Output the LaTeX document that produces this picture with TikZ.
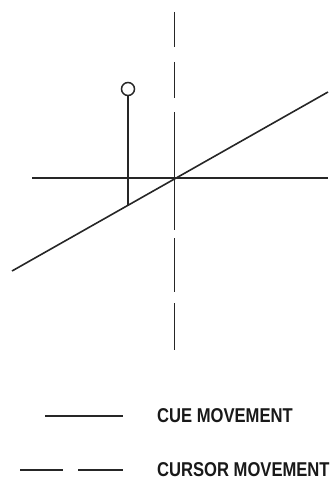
\documentclass[tikz,border=0pt]{standalone}
\usepackage{fontspec}
\setmainfont{Liberation Sans}
\usepackage{tikz}

\tikzset{
  cue/.style={line width=1.6pt, black!85},
  cursor/.style={line width=1.6pt, black!85},
  legendtext/.style={anchor=west, inner sep=0pt, font=\fontsize{20}{21}\selectfont\bfseries, text=black!90, xscale=0.83, transform shape}
}

\begin{document}
\begin{tikzpicture}[x=1pt, y=-1pt]

		\useasboundingbox (0,0) rectangle (334,495);

		% --- points ---
		\coordinate (origin) at (174.5,178);
		\coordinate (cueStart) at (12,271);
		\coordinate (cueEnd) at (328,92);
		\coordinate (target) at (128,89);
		\coordinate (foot) at (128,205);

		% --- axes ---
		\draw[cue] (32,178) -- (328,178);
		\foreach \ya/\yb in {12/47, 62/98, 112/230, 238/292, 303/350}
			\draw[cursor] (174.5,\ya) -- (174.5,\yb);

		% --- cue line ---
		\draw[cue] (cueStart) -- (cueEnd);

		% --- target with stem ---
		\node[circle, draw, line width=1.5pt, black!85, minimum size=13pt, inner sep=0pt] (dot) at (target) {};
		\draw[cue] (dot.south) -- (foot);

		% --- legend ---
		\draw[cue] (45,416) -- (123,416);
		\node[legendtext] (cueLabel) at (157,416) {CUE MOVEMENT};
		\draw[cursor] (20,470) -- (63,470);
		\draw[cursor] (78,470) -- (123,470);
		\node[legendtext] (cursorLabel) at (157,470) {CURSOR MOVEMENT};

	\end{tikzpicture}
\end{document}
